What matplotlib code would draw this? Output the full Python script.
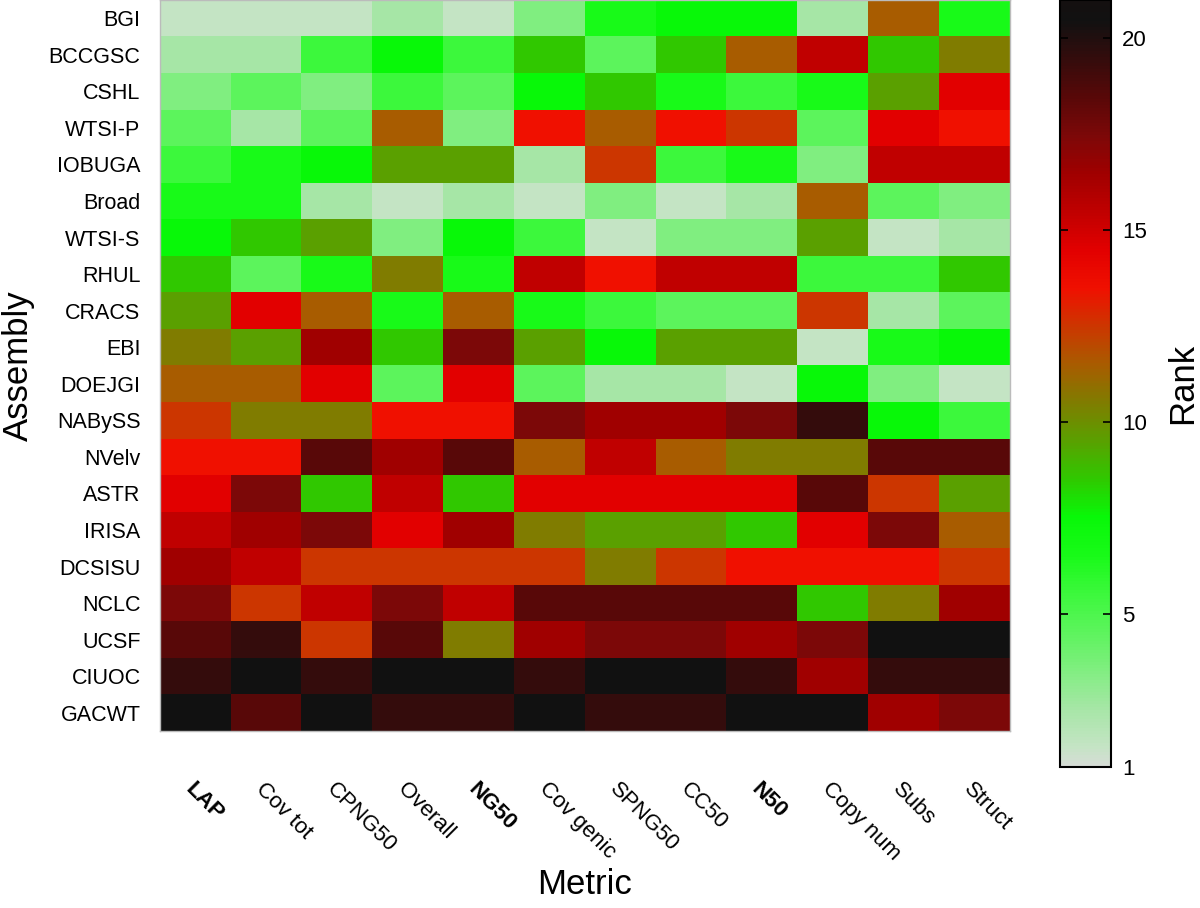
import numpy as np
import matplotlib
matplotlib.use("Agg")
import matplotlib.pyplot as plt
from matplotlib.colors import ListedColormap, BoundaryNorm, LinearSegmentedColormap, Normalize
from matplotlib.cm import ScalarMappable

plt.rcParams["font.family"] = ["Liberation Sans", "DejaVu Sans"]

assemblies = ["BGI", "BCCGSC", "CSHL", "WTSI-P", "IOBUGA", "Broad", "WTSI-S", "RHUL",
              "CRACS", "EBI", "DOEJGI", "NABySS", "NVelv", "ASTR", "IRISA", "DCSISU",
              "NCLC", "UCSF", "CIUOC", "GACWT"]
metrics = ["LAP", "Cov tot", "CPNG50", "Overall", "NG50", "Cov genic",
           "SPNG50", "CC50", "N50", "Copy num", "Subs", "Struct"]
bold_metrics = ["LAP", "NG50", "N50"]

# rank of each assembly (rows) for each metric (columns)
rank_lap       = [1, 2, 3, 4, 5, 6, 7, 8, 9, 10, 11, 12, 13, 14, 15, 16, 17, 18, 19, 20]
rank_cov_tot   = [1, 2, 4, 2, 6, 6, 8, 4, 14, 9, 11, 10, 13, 17, 16, 15, 12, 19, 20, 18]
rank_cpng50    = [1, 5, 3, 4, 7, 2, 9, 6, 11, 16, 14, 10, 18, 8, 17, 12, 15, 12, 19, 20]
rank_overall   = [2, 7, 5, 11, 9, 1, 3, 10, 6, 8, 4, 13, 16, 15, 14, 12, 17, 18, 20, 19]
rank_ng50      = [1, 5, 4, 3, 9, 2, 7, 6, 11, 17, 14, 13, 18, 8, 16, 12, 15, 10, 20, 19]
rank_cov_genic = [3, 8, 7, 13, 2, 1, 5, 15, 6, 9, 4, 17, 11, 14, 10, 12, 18, 16, 19, 20]
rank_spng50    = [6, 4, 8, 11, 12, 3, 1, 13, 5, 7, 2, 16, 15, 14, 9, 10, 18, 17, 20, 19]
rank_cc50      = [7, 8, 6, 13, 5, 1, 3, 15, 4, 9, 2, 16, 11, 14, 9, 12, 18, 17, 20, 19]
rank_n50       = [7, 11, 5, 12, 6, 2, 3, 15, 4, 9, 1, 17, 10, 14, 8, 13, 18, 16, 19, 20]
rank_copy_num  = [2, 15, 6, 4, 3, 11, 9, 5, 12, 1, 7, 19, 10, 18, 14, 13, 8, 17, 16, 20]
rank_subs      = [11, 8, 9, 14, 15, 4, 1, 5, 2, 6, 3, 7, 18, 12, 17, 13, 10, 20, 19, 16]
rank_struct    = [6, 10, 14, 13, 15, 3, 2, 8, 4, 7, 1, 5, 18, 9, 11, 12, 16, 20, 19, 17]

ranks = np.column_stack([rank_lap, rank_cov_tot, rank_cpng50, rank_overall, rank_ng50,
                         rank_cov_genic, rank_spng50, rank_cc50, rank_n50, rank_copy_num,
                         rank_subs, rank_struct])

# one colour per rank, light grey -> green -> olive -> red -> black
rank_colors = ["#c4e4c4", "#a6e6a6", "#80ee80", "#5cf45c", "#3cf83c", "#18fa18", "#08f808",
               "#30c800", "#5aa000", "#807c00", "#a85c00", "#cc3600", "#f01000", "#e20000",
               "#c00000", "#a00000", "#7c0808", "#580808", "#340c0c", "#111111"]
cmap = ListedColormap(rank_colors)
norm = BoundaryNorm(np.arange(1, 22), cmap.N)

nodes = [(0.0, "#d6dcd6")] + [((k + 0.5) / 20, c) for k, c in enumerate(rank_colors)] + [(1.0, "#141010")]
smooth = LinearSegmentedColormap.from_list("rank", nodes)

fig = plt.figure(figsize=(12, 9.08), dpi=100)
ax = fig.add_axes([160 / 1200, 1 - 731 / 908, 850 / 1200, 731 / 908])
ax.imshow(ranks, cmap=cmap, norm=norm, aspect="auto", interpolation="nearest")

ax.set_yticks(range(len(assemblies)))
ax.set_yticklabels(assemblies, fontsize=15.5)
ax.set_xticks(range(len(metrics)))
ax.set_xticklabels(metrics, fontsize=16, rotation=-45, ha="left", va="top",
                   rotation_mode="anchor")
for lbl in ax.get_xticklabels():
    if lbl.get_text() in bold_metrics:
        lbl.set_fontweight("bold")
ax.tick_params(axis="y", length=0, pad=14)
ax.tick_params(axis="x", length=0, pad=34)
for s in ax.spines.values():
    s.set_color("#bbbbbb")
    s.set_linewidth(1)

ax.set_ylabel("Assembly", fontsize=25, labelpad=10)
ax.set_xlabel("Metric", fontsize=25)
ax.xaxis.set_label_coords(0.5, (731 - 868) / 731)

cax = fig.add_axes([1060 / 1200, 1 - 767 / 908, 51 / 1200, 767 / 908])
cb = fig.colorbar(ScalarMappable(norm=Normalize(1, 21), cmap=smooth), cax=cax)
cb.set_ticks([1, 5, 10, 15, 20])
cb.outline.set_linewidth(1.5)
cax.tick_params(direction="in", left=True, right=True, length=6, width=1.2, labelsize=16, pad=8)
cb.set_label("Rank", fontsize=25, labelpad=14)

fig.savefig("out.png", dpi=100)
